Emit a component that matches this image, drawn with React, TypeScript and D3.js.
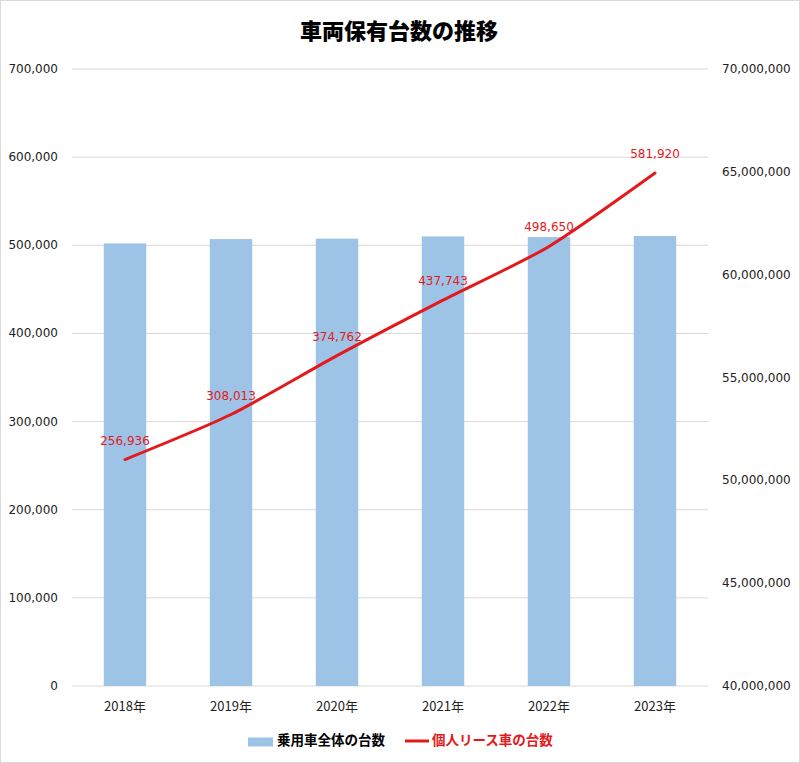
import React from "react";
import * as d3 from "d3";

const years = ["2018年", "2019年", "2020年", "2021年", "2022年", "2023年"];
const totalCars = [61520000, 61730000, 61750000, 61860000, 61830000, 61880000];
const leaseCars = [256936, 308013, 374762, 437743, 498650, 581920];
const leftTicks = [0, 100000, 200000, 300000, 400000, 500000, 600000, 700000];
const rightTicks = [40000000, 45000000, 50000000, 55000000, 60000000, 65000000, 70000000];
const title = "車両保有台数の推移";
const barLegend = "乗用車全体の台数";
const lineLegend = "個人リース車の台数";

const W = 800;
const H = 763;
const plotLeft = 72;
const plotRight = 708;
const plotTop = 69;
const plotBottom = 686;

const numFont = "'DejaVu Sans', Verdana, sans-serif";
const cjkFont = "'Noto Sans CJK JP', 'Noto Sans', sans-serif";
const barColor = "#9dc3e6";
const lineColor = "#e31a1c";
const fmt = d3.format(",");

export default function App() {
  const x = d3.scaleBand<string>().domain(years).range([plotLeft, plotRight]).paddingInner(0.6).paddingOuter(0.3);
  const yL = d3.scaleLinear().domain([0, 700000]).range([plotBottom, plotTop]);
  const yR = d3.scaleLinear().domain([40000000, 70000000]).range([plotBottom, plotTop]);
  const cx = (i: number) => (x(years[i]) as number) + x.bandwidth() / 2;

  const line = d3
    .line<number>()
    .x((_, i) => cx(i))
    .y((d) => yL(d))
    .curve(d3.curveCardinal.tension(0.3));

  return (
    <svg
      width={W}
      height={H}
      style={{ position: "absolute", left: 0, top: 0, background: "#fff" }}
    >
      <rect x={0.5} y={0.5} width={W - 1} height={H - 1} fill="#fff" stroke="#d9d9d9" />
      <text x={399} y={39} textAnchor="middle" fontFamily={cjkFont} fontWeight={900} fontSize={22} fill="#000">
        {title}
      </text>
      {leftTicks.map((t) => (
        <g key={"g" + t}>
          <line x1={plotLeft} x2={plotRight} y1={yL(t)} y2={yL(t)} stroke="#d9d9d9" strokeWidth={1} />
          <text x={58} y={yL(t) + 4} textAnchor="end" fontFamily={numFont} fontSize={12} fill="#222">
            {fmt(t)}
          </text>
        </g>
      ))}
      {rightTicks.map((t) => (
        <text key={"r" + t} x={722} y={yR(t) + 4} textAnchor="start" fontFamily={numFont} fontSize={12} fill="#222">
          {fmt(t)}
        </text>
      ))}
      {totalCars.map((v, i) => (
        <rect
          key={"b" + i}
          x={x(years[i])}
          y={yR(v)}
          width={x.bandwidth()}
          height={yR(40000000) - yR(v)}
          fill={barColor}
        />
      ))}
      {years.map((yr, i) => (
        <text key={"x" + i} x={cx(i)} y={711} textAnchor="middle" fontFamily={cjkFont} fontSize={13} fill="#222">
          {yr}
        </text>
      ))}
      <path d={line(leaseCars) || ""} fill="none" stroke={lineColor} strokeWidth={3} strokeLinecap="round" />
      {leaseCars.map((v, i) => (
        <text key={"l" + i} x={cx(i)} y={yL(v) - 15} textAnchor="middle" fontFamily={numFont} fontSize={12} fill={lineColor}>
          {fmt(v)}
        </text>
      ))}
      <rect x={248} y={737.5} width={25} height={9} fill={barColor} />
      <text x={277} y={745} fontFamily={cjkFont} fontWeight={700} fontSize={13.5} fill="#000">
        {barLegend}
      </text>
      <line x1={405} x2={429} y1={741} y2={741} stroke={lineColor} strokeWidth={3} />
      <text x={432} y={745} fontFamily={cjkFont} fontWeight={700} fontSize={13.5} fill={lineColor}>
        {lineLegend}
      </text>
    </svg>
  );
}
